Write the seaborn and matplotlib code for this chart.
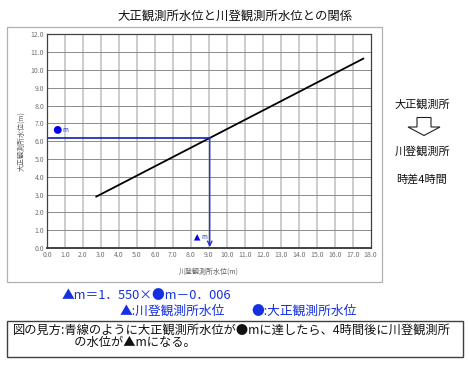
import matplotlib
matplotlib.use("Agg")
import matplotlib.pyplot as plt
from matplotlib.patches import Rectangle, Polygon
import seaborn as sns
import pandas as pd
import numpy as np

# ---- data ----
kawanobori_x = [2.73, 17.6]      # 川登観測所水位 (m)
taisho_y = [2.88, 10.64]         # 大正観測所水位 (m)
guide_x = 9.05                   # 青線: 川登観測所水位
guide_y = 6.2                    # 青線: 大正観測所水位
circle_pt = (0.6, 6.63)
triangle_pt = (8.35, 0.6)
x_ticks = list(np.arange(0, 19, 1.0))
y_ticks = list(np.arange(0, 13, 1.0))
x_tick_labels = [f"{v:.1f}" for v in x_ticks]
y_tick_labels = [f"{v:.1f}" for v in y_ticks]

title = "大正観測所水位と川登観測所水位との関係"
xlabel = "川登観測所水位(m)"
ylabel = "大正観測所水位(m)"

sns.set_theme(style="white")
plt.rcParams['font.family'] = ['Noto Sans CJK JP', 'DejaVu Sans']

W, H = 469, 366
fig = plt.figure(figsize=(W / 100, H / 100), dpi=100)

def fx(px):
    return px / W

def fy(py):
    return 1 - py / H

# outer gray frame
fig.patches.append(Rectangle((fx(7.3), fy(282.3)), fx(382) - fx(7.3), fy(26.7) - fy(282.3),
                             transform=fig.transFigure, fill=False, edgecolor="#b0b0b0", lw=0.9))

ax = fig.add_axes([fx(47), fy(248), fx(370.7) - fx(47), fy(34.3) - fy(248)])

df = pd.DataFrame({"x": kawanobori_x, "y": taisho_y})
sns.lineplot(data=df, x="x", y="y", ax=ax, color="black", lw=1.3)

# grid
for v in x_ticks[1:-1]:
    ax.axvline(v, color="#c8c8c8", lw=1.3, zorder=0)
for v in y_ticks[1:-1]:
    ax.axhline(v, color="#8a8a8a", lw=0.7, zorder=0)

# blue guide lines
blue = "#2233cc"
ax.plot([0, guide_x], [guide_y, guide_y], color="#1020b0", lw=1.2)
ax.annotate("", xy=(guide_x, 0.05), xytext=(guide_x, guide_y),
            arrowprops=dict(arrowstyle="->", color=blue, lw=1.0, shrinkA=0, shrinkB=0,
                            mutation_scale=8))

pts = pd.DataFrame({"x": [circle_pt[0]], "y": [circle_pt[1]]})
sns.scatterplot(data=pts, x="x", y="y", ax=ax, color="#0000ee", s=32, edgecolor="none", zorder=5)
ax.text(circle_pt[0] + 0.28, circle_pt[1], "m", color=blue, fontsize=4.5, va="center", ha="left")
tri = pd.DataFrame({"x": [triangle_pt[0]], "y": [triangle_pt[1]]})
sns.scatterplot(data=tri, x="x", y="y", ax=ax, color="#0000ee", marker="^", s=22,
                edgecolor="none", zorder=5)
ax.text(triangle_pt[0] + 0.22, triangle_pt[1], "m", color=blue, fontsize=4.5, va="center", ha="left")

ax.set_xlim(0, 18)
ax.set_ylim(0, 12)
ax.set_xticks(x_ticks)
ax.set_xticklabels(x_tick_labels)
ax.set_yticks(y_ticks)
ax.set_yticklabels(y_tick_labels)
ax.tick_params(axis="both", length=0, pad=2, labelsize=5, labelcolor="#707070")
ax.set_xlabel(xlabel, fontsize=5, color="#606060", labelpad=6)
ax.set_ylabel(ylabel, fontsize=5, color="#606060", labelpad=4)
for s in ax.spines.values():
    s.set_color("#404040")
    s.set_linewidth(0.9)
ax.spines["bottom"].set_linewidth(1.4)

fig.text(fx(235), fy(16), title, fontsize=8.9, ha="center", va="center", color="#111111")

# right annotation
fig.text(fx(422), fy(104), "大正観測所", fontsize=8, ha="center", va="center", color="#111111")
fig.text(fx(422), fy(151), "川登観測所", fontsize=8, ha="center", va="center", color="#111111")
fig.text(fx(422), fy(179), "時差4時間", fontsize=8, ha="center", va="center", color="#111111")
arrow_px = [(417, 117.5), (431, 117.5), (431, 127), (440, 127), (424, 135.5),
            (408, 127), (417, 127)]
fig.patches.append(Polygon([(fx(a), fy(b)) for a, b in arrow_px], closed=True,
                           transform=fig.transFigure, fill=False, edgecolor="#222222", lw=0.8))

# equation and legend lines
eq_color = "#1530e0"
fig.text(fx(61.5), fy(295), "▲m＝1．550×●m－0．006", fontsize=9.2, ha="left", va="center",
         color=eq_color)
fig.text(fx(120), fy(311), "▲:川登観測所水位", fontsize=9.2, ha="left", va="center", color=eq_color)
fig.text(fx(251.7), fy(311), "●:大正観測所水位", fontsize=9.2, ha="left", va="center", color=eq_color)

# explanation box
fig.patches.append(Rectangle((fx(7.3), fy(357)), fx(463) - fx(7.3), fy(320.7) - fy(357),
                             transform=fig.transFigure, fill=False, edgecolor="#404040", lw=1.0))
fig.text(fx(13), fy(336.5),
         "図の見方:青線のように大正観測所水位が●mに達したら、4時間後に川登観測所\n"
         "　　　　　の水位が▲mになる。",
         fontsize=8.8, ha="left", va="center", color="#111111", linespacing=0.95)

fig.savefig("out.png", dpi=100, facecolor="white")
